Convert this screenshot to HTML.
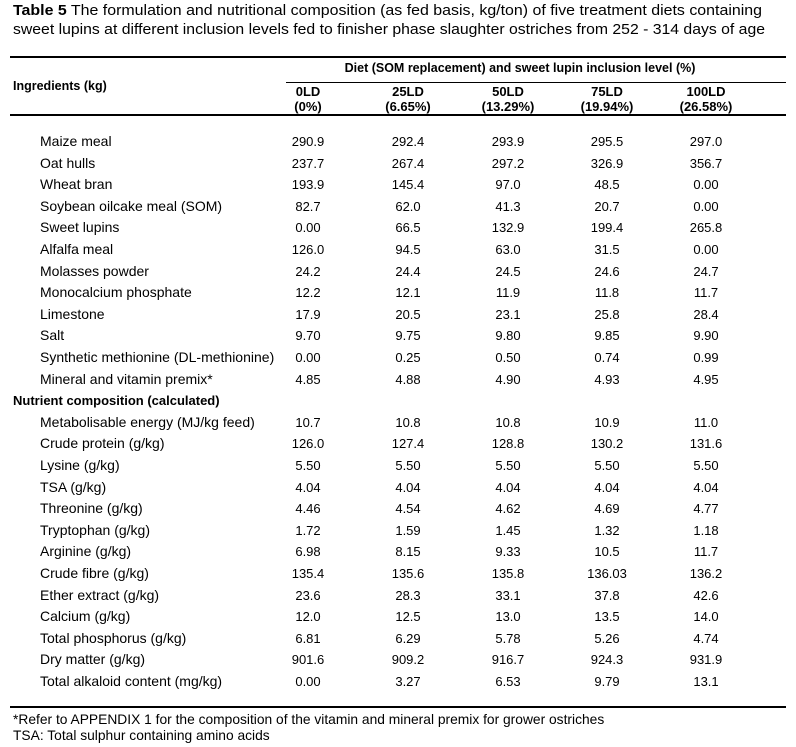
<!DOCTYPE html>
<html><head><meta charset="utf-8"><style>
html,body{margin:0;padding:0;background:#fff;}
#page{position:relative;width:796px;height:747px;overflow:hidden;font-family:"Liberation Sans",Arial,sans-serif;font-size:13px;color:#000;}
.t{position:absolute;white-space:nowrap;line-height:15px;}
.c{transform:translateX(-50%);text-align:center;}
.rule{position:absolute;height:2px;background:#000;}
.b{font-weight:bold;}
.title{font-size:15px;line-height:17px;transform-origin:0 0;}
.lab{font-size:14px;}
.fn{font-size:13.8px;}
</style></head><body>
<div id="page">
<div id="tl1" class="t title" style="left:13px;top:2px;"><span class="b">Table 5</span> The formulation and nutritional composition (as fed basis, kg/ton) of five treatment diets containing</div>
<div id="tl2" class="t title" style="left:13px;top:21px;">sweet lupins at different inclusion levels fed to finisher phase slaughter ostriches from 252 - 314 days of age</div>
<div class="rule" style="left:10px;width:776px;top:56px;"></div>
<div class="t b c" style="left:520px;top:61px;font-size:12.5px;">Diet (SOM replacement) and sweet lupin inclusion level (%)</div>
<div class="rule" style="left:286px;width:500px;top:82px;height:1px;"></div>
<div class="t b" style="left:13px;top:79px;font-size:12.5px;">Ingredients (kg)</div>
<div class="rule" style="left:10px;width:776px;top:114px;"></div>
<div class="rule" style="left:10px;width:776px;top:706px;"></div>
<div class="t fn" style="left:13px;top:712px;">*Refer to APPENDIX 1 for the composition of the vitamin and mineral premix for grower ostriches</div>
<div class="t fn" style="left:13px;top:728px;">TSA: Total sulphur containing amino acids</div>
</div>
<script>
const colX=[308,408,508,607,706];
const heads=[["0LD","(0%)"],["25LD","(6.65%)"],["50LD","(13.29%)"],["75LD","(19.94%)"],["100LD","(26.58%)"]];
const rows=[
["Maize meal","290.9","292.4","293.9","295.5","297.0"],
["Oat hulls","237.7","267.4","297.2","326.9","356.7"],
["Wheat bran","193.9","145.4","97.0","48.5","0.00"],
["Soybean oilcake meal (SOM)","82.7","62.0","41.3","20.7","0.00"],
["Sweet lupins","0.00","66.5","132.9","199.4","265.8"],
["Alfalfa meal","126.0","94.5","63.0","31.5","0.00"],
["Molasses powder","24.2","24.4","24.5","24.6","24.7"],
["Monocalcium phosphate","12.2","12.1","11.9","11.8","11.7"],
["Limestone","17.9","20.5","23.1","25.8","28.4"],
["Salt","9.70","9.75","9.80","9.85","9.90"],
["Synthetic methionine (DL-methionine)","0.00","0.25","0.50","0.74","0.99"],
["Mineral and vitamin premix*","4.85","4.88","4.90","4.93","4.95"],
["#Nutrient composition (calculated)"],
["Metabolisable energy (MJ/kg feed)","10.7","10.8","10.8","10.9","11.0"],
["Crude protein (g/kg)","126.0","127.4","128.8","130.2","131.6"],
["Lysine (g/kg)","5.50","5.50","5.50","5.50","5.50"],
["TSA (g/kg)","4.04","4.04","4.04","4.04","4.04"],
["Threonine (g/kg)","4.46","4.54","4.62","4.69","4.77"],
["Tryptophan (g/kg)","1.72","1.59","1.45","1.32","1.18"],
["Arginine (g/kg)","6.98","8.15","9.33","10.5","11.7"],
["Crude fibre (g/kg)","135.4","135.6","135.8","136.03","136.2"],
["Ether extract (g/kg)","23.6","28.3","33.1","37.8","42.6"],
["Calcium (g/kg)","12.0","12.5","13.0","13.5","14.0"],
["Total phosphorus (g/kg)","6.81","6.29","5.78","5.26","4.74"],
["Dry matter (g/kg)","901.6","909.2","916.7","924.3","931.9"],
["Total alkaloid content (mg/kg)","0.00","3.27","6.53","9.79","13.1"]
];
const page=document.getElementById('page');
function fit(id,w){const e=document.getElementById(id);const cw=e.getBoundingClientRect().width;e.style.transform='scaleX('+(w/cw)+')';}
fit('tl1',749);fit('tl2',752);
function mk(txt,cls,left,top){const d=document.createElement('div');d.className='t '+cls;d.style.left=left+'px';d.style.top=top+'px';d.textContent=txt;page.appendChild(d);return d;}
heads.forEach((h,i)=>{
 const a=mk(h[0],'b c',colX[i],84);
 
 
 const p=mk(h[1],'b c',colX[i],99);
 
 
});
rows.forEach((r,i)=>{
 const y=134+i*21.6;
 if(r[0][0]==='#'){
  const s=mk(r[0].slice(1),'b',13,y);
  
  
  return;
 }
 const l=mk(r[0],'lab',40,y);
 
 
 for(let j=1;j<6;j++){
  const v=mk(r[j],'c',colX[j-1],y);
  
  
 }
});
</script>
</body></html>
